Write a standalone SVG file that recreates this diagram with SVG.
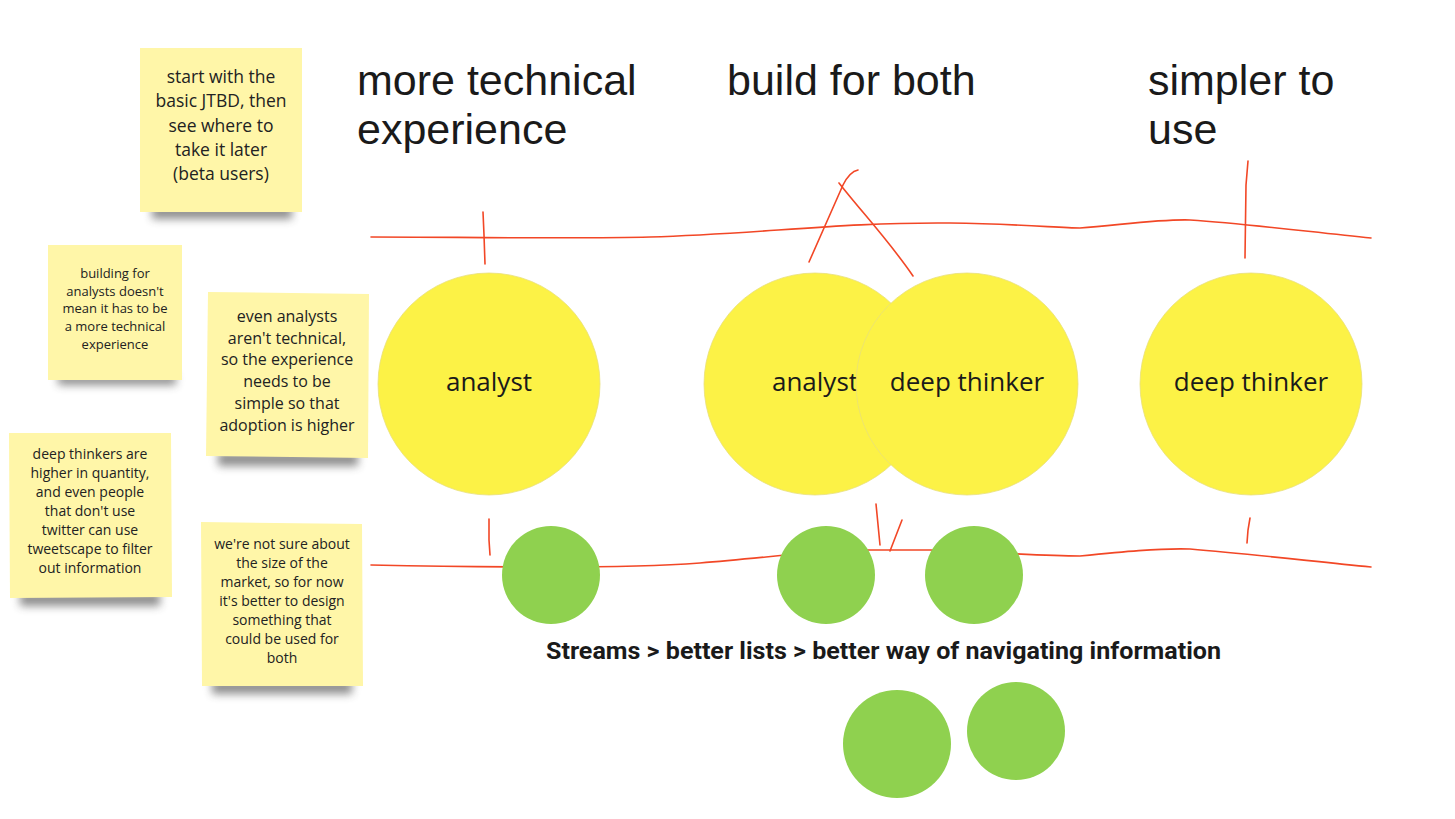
<svg xmlns="http://www.w3.org/2000/svg" width="1455" height="819" viewBox="0 0 1455 819">
<defs>
<style>
.note{fill:#fff6a8}
.nt{font-family:"Open Sans","Noto Sans",sans-serif;fill:#222;text-anchor:middle}
.hd{font-family:"Liberation Sans",Arial,sans-serif;font-size:43px;fill:#1a1a1a}
.yc{fill:#fcf246;stroke:#e8e07a;stroke-width:0.8}
.yt{font-family:"Open Sans","Noto Sans",sans-serif;font-size:26px;fill:#1a1a1a;text-anchor:middle}
.gc{fill:#8fd14f}
.red{fill:none;stroke:#f24726;stroke-width:1.6;stroke-linecap:round}
</style>
<filter id="sh" x="-20%" y="-100%" width="140%" height="300%"><feGaussianBlur stdDeviation="4"/></filter>
<linearGradient id="ng" x1="0" y1="0" x2="1" y2="1"><stop offset="0" stop-color="#fff3a0"/><stop offset="1" stop-color="#fff8b8"/></linearGradient>
</defs>
<rect width="1455" height="819" fill="#fff"/>

<g id="connectors">
<path class="red" d="M371,237 C450,237 580,239 650,237 C760,234 840,222 950,223 C1020,224 1060,228 1080,228 C1120,225 1160,219 1190,220 C1250,224 1310,232 1371,238"/>
<path class="red" d="M483,212 L484,235 L485,264"/>
<path class="red" d="M809,262 L843,185 C848,175 853,171 858,170"/>
<path class="red" d="M839,183 C860,210 890,242 913,276"/>
<path class="red" d="M1248,161 L1246,185 L1245,258"/>
<path class="red" d="M371,565 C420,566 470,567 551,567 C620,567 660,566 700,563 C760,558 810,552 850,550 L930,550 C990,552 1040,556 1080,556 C1120,552 1160,548 1190,549 C1250,554 1310,561 1371,567"/>
<path class="red" d="M489,519 L489,540 L490,555"/>
<path class="red" d="M876,504 L880,545"/>
<path class="red" d="M902,520 L890,551"/>
<path class="red" d="M1250,518 L1248,530 L1247,543"/>
</g>

<g id="note1">
<rect x="152" y="205" width="140" height="14" fill="#444" opacity="0.6" filter="url(#sh)"/>
<rect class="note" x="140" y="48" width="162" height="164" fill="url(#ng)"/>
<text class="nt" font-size="17.5"><tspan x="221" y="83">start with the</tspan><tspan x="221" y="107">basic JTBD, then</tspan><tspan x="221" y="132">see where to</tspan><tspan x="221" y="156">take it later</tspan><tspan x="221" y="180">(beta users)</tspan></text>
</g>

<g id="note2">
<rect x="58" y="374" width="118" height="11" fill="#444" opacity="0.6" filter="url(#sh)"/>
<rect class="note" x="48" y="245" width="134" height="135" fill="url(#ng)"/>
<text class="nt" font-size="13"><tspan x="115" y="278">building for</tspan><tspan x="115" y="296">analysts doesn't</tspan><tspan x="115" y="313">mean it has to be</tspan><tspan x="115" y="331">a more technical</tspan><tspan x="115" y="349">experience</tspan></text>
</g>

<g id="note3">
<rect x="218" y="452" width="140" height="14" fill="#444" opacity="0.6" filter="url(#sh)"/>
<polygon class="note" points="208,292 369,294 368,458 206,456" fill="url(#ng)"/>
<text class="nt" font-size="16"><tspan x="287" y="322">even analysts</tspan><tspan x="287" y="344">aren't technical,</tspan><tspan x="287" y="365">so the experience</tspan><tspan x="287" y="387">needs to be</tspan><tspan x="287" y="409">simple so that</tspan><tspan x="287" y="431">adoption is higher</tspan></text>
</g>

<g id="note4">
<rect x="20" y="592" width="140" height="14" fill="#444" opacity="0.6" filter="url(#sh)"/>
<polygon class="note" points="9,433 171,433 172,597 10,598" fill="url(#ng)"/>
<text class="nt" font-size="14"><tspan x="90" y="459">deep thinkers are</tspan><tspan x="90" y="478">higher in quantity,</tspan><tspan x="90" y="497">and even people</tspan><tspan x="90" y="516">that don't use</tspan><tspan x="90" y="535">twitter can use</tspan><tspan x="90" y="554">tweetscape to filter</tspan><tspan x="90" y="573">out information</tspan></text>
</g>

<g id="note5">
<rect x="212" y="680" width="140" height="14" fill="#444" opacity="0.6" filter="url(#sh)"/>
<polygon class="note" points="201,522 362,524 363,686 202,686" fill="url(#ng)"/>
<text class="nt" font-size="14"><tspan x="282" y="549">we're not sure about</tspan><tspan x="282" y="568">the size of the</tspan><tspan x="282" y="587">market, so for now</tspan><tspan x="282" y="606">it's better to design</tspan><tspan x="282" y="625">something that</tspan><tspan x="282" y="644">could be used for</tspan><tspan x="282" y="663">both</tspan></text>
</g>

<g id="heading1"><text class="hd"><tspan x="357" y="95">more technical</tspan><tspan x="357" y="144">experience</tspan></text></g>
<g id="heading2"><text class="hd" x="727" y="95">build for both</text></g>
<g id="heading3"><text class="hd"><tspan x="1148" y="95">simpler to</tspan><tspan x="1148" y="144">use</tspan></text></g>

<g id="circle-analyst-1"><circle class="yc" cx="489" cy="384" r="111"/><text class="yt" x="489" y="391">analyst</text></g>
<g id="circle-analyst-2"><circle class="yc" cx="815" cy="384" r="111"/><text class="yt" x="815" y="391">analyst</text></g>
<g id="circle-deep-1"><circle class="yc" cx="967" cy="384" r="111"/><text class="yt" x="967" y="391">deep thinker</text></g>
<g id="circle-deep-2"><circle class="yc" cx="1251" cy="384" r="111"/><text class="yt" x="1251" y="391">deep thinker</text></g>

<g id="green1"><circle class="gc" cx="551" cy="575" r="49"/></g>
<g id="green2"><circle class="gc" cx="826" cy="575" r="49"/></g>
<g id="green3"><circle class="gc" cx="974" cy="575" r="49"/></g>
<g id="green4"><circle class="gc" cx="897" cy="744" r="54"/></g>
<g id="green5"><circle class="gc" cx="1016" cy="731" r="49"/></g>

<g id="caption"><text x="546" y="659" font-family="Roboto,'Liberation Sans',sans-serif" font-weight="bold" font-size="23" fill="#1a1a1a" textLength="675" lengthAdjust="spacingAndGlyphs">Streams &gt; better lists &gt; better way of navigating information</text></g>
</svg>
